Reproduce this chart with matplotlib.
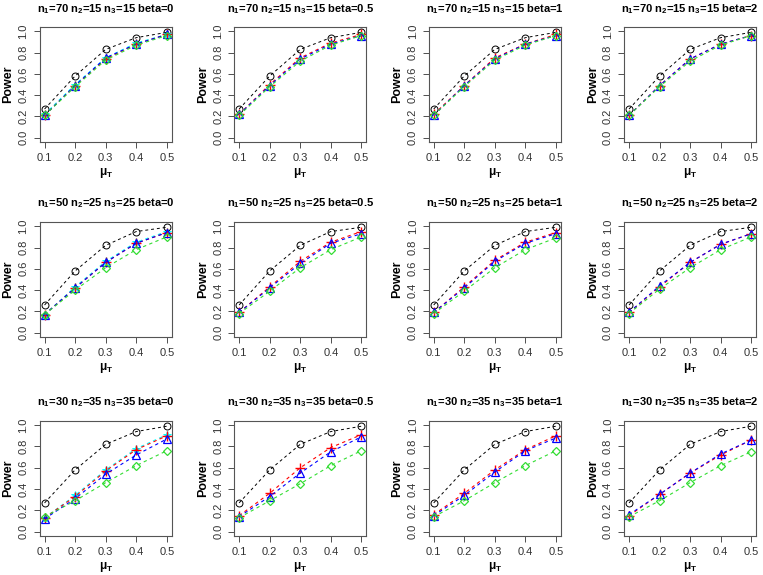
import matplotlib
matplotlib.use('Agg')
import matplotlib.pyplot as plt

plt.rcParams['font.family'] = ['Liberation Sans', 'DejaVu Sans']
plt.rcParams['mathtext.fontset'] = 'custom'
plt.rcParams['mathtext.rm'] = 'Liberation Sans:bold'
plt.rcParams['mathtext.bf'] = 'Liberation Sans:bold'
plt.rcParams['mathtext.it'] = 'Liberation Sans:bold'
plt.rcParams['mathtext.default'] = 'bf'

# Datos
mu = [0.1, 0.2, 0.3, 0.4, 0.5]
betas = ['0', '0.5', '1', '2']
n1 = [70, 50, 30]
n2 = [15, 25, 35]
n3 = [15, 25, 35]

# curva negra (igual en todos los beta)
black_n70 = [0.27, 0.58, 0.83, 0.94, 0.99]
black_n50 = [0.26, 0.58, 0.82, 0.95, 0.99]
black_n30 = [0.27, 0.58, 0.82, 0.94, 0.99]

# una lista por beta: 0, 0.5, 1, 2
red_n70 = [[0.21, 0.49, 0.74, 0.88, 0.97], [0.22, 0.50, 0.75, 0.89, 0.97],
           [0.22, 0.49, 0.75, 0.88, 0.97], [0.21, 0.49, 0.74, 0.88, 0.96]]
blue_n70 = [[0.21, 0.49, 0.75, 0.88, 0.97], [0.22, 0.49, 0.74, 0.88, 0.96],
            [0.21, 0.49, 0.74, 0.88, 0.96], [0.21, 0.49, 0.74, 0.88, 0.96]]
green_n70 = [[0.21, 0.48, 0.73, 0.87, 0.96], [0.21, 0.48, 0.72, 0.87, 0.96],
             [0.21, 0.48, 0.73, 0.87, 0.96], [0.21, 0.48, 0.72, 0.87, 0.96]]
cyan_n70 = [0.22, 0.50, 0.75, 0.89, 0.97]

red_n50 = [[0.17, 0.42, 0.66, 0.84, 0.94], [0.19, 0.43, 0.67, 0.85, 0.95],
           [0.19, 0.43, 0.68, 0.85, 0.94], [0.19, 0.43, 0.66, 0.83, 0.93]]
blue_n50 = [[0.17, 0.42, 0.66, 0.84, 0.94], [0.19, 0.42, 0.65, 0.84, 0.93],
            [0.19, 0.42, 0.67, 0.84, 0.93], [0.19, 0.44, 0.66, 0.83, 0.93]]
green_n50 = [[0.17, 0.40, 0.61, 0.78, 0.90], [0.18, 0.39, 0.61, 0.78, 0.90],
             [0.18, 0.39, 0.61, 0.78, 0.89], [0.18, 0.41, 0.61, 0.78, 0.90]]
cyan_n50 = [0.17, 0.43, 0.67, 0.85, 0.95]

red_n30 = [[0.13, 0.33, 0.57, 0.77, 0.90], [0.15, 0.36, 0.60, 0.79, 0.91],
           [0.16, 0.36, 0.58, 0.77, 0.90], [0.15, 0.35, 0.55, 0.72, 0.86]]
blue_n30 = [[0.12, 0.31, 0.54, 0.72, 0.87], [0.14, 0.33, 0.55, 0.75, 0.89],
            [0.15, 0.34, 0.56, 0.76, 0.88], [0.16, 0.35, 0.55, 0.73, 0.86]]
green_n30 = [[0.14, 0.29, 0.46, 0.62, 0.76], [0.13, 0.29, 0.45, 0.62, 0.76],
             [0.14, 0.29, 0.46, 0.62, 0.76], [0.14, 0.29, 0.46, 0.62, 0.75]]
cyan_n30 = [0.13, 0.34, 0.58, 0.78, 0.91]

blacks = [black_n70, black_n50, black_n30]
reds = [red_n70, red_n50, red_n30]
blues = [blue_n70, blue_n50, blue_n30]
greens = [green_n70, green_n50, green_n30]
cyans = [cyan_n70, cyan_n50, cyan_n30]

fig = plt.figure(figsize=(7.63, 5.75), dpi=100)

lefts = [0.052, 0.307, 0.562, 0.818]
bottoms = [0.753, 0.414, 0.068]
w = 0.173
h = 0.200

for i in range(3):
    for j in range(4):
        ax = fig.add_axes([lefts[j], bottoms[i], w, h])
        ax.plot(mu, blacks[i], ls='--', color='black', lw=0.7, marker='o',
                mfc='none', ms=5, mew=0.7, dashes=(3, 3))
        if j == 0:
            ax.plot(mu, cyans[i], ls='--', color='cyan', lw=0.8, marker='*',
                    ms=6, mew=0.7, dashes=(3, 3))
        ax.plot(mu, reds[i][j], ls='--', color='red', lw=0.8, marker='+',
                ms=7, mew=1.0, dashes=(3, 3))
        ax.plot(mu, blues[i][j], ls='--', color='blue', lw=0.8, marker='^',
                mfc='none', ms=6, mew=0.9, dashes=(3, 3))
        ax.plot(mu, greens[i][j], ls='--', color='#33dd33', lw=0.8, marker='D',
                mfc='none', ms=4.5, mew=0.9, dashes=(3, 3))

        ax.set_xlim(0.084, 0.516)
        ax.set_ylim(-0.04, 1.04)
        ax.set_xticks(mu)
        ax.set_xticklabels(['0.1', '0.2', '0.3', '0.4', '0.5'])
        ax.set_yticks([0.0, 0.2, 0.4, 0.6, 0.8, 1.0])
        ax.set_yticklabels(['0.0', '0.2', '0.4', '0.6', '0.8', '1.0'],
                           rotation=90, va='center')
        ax.tick_params(labelsize=8, colors='#333333', length=4, width=0.6, pad=4)
        for s in ax.spines.values():
            s.set_color('#555555')
            s.set_linewidth(0.8)
        ax.set_title('n$_1$=%d n$_2$=%d n$_3$=%d beta=%s' % (n1[i], n2[i], n3[i], betas[j]),
                     fontsize=8, fontweight='bold', pad=11)
        ax.set_ylabel('Power', fontsize=9, fontweight='bold', labelpad=3)
        ax.set_xlabel(r'$\mu_T$', fontsize=8.5, labelpad=2)

fig.savefig('out.png', dpi=100)
